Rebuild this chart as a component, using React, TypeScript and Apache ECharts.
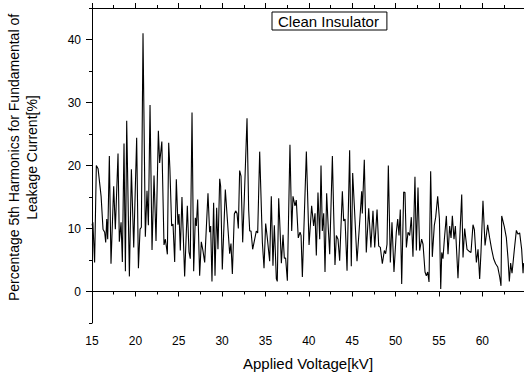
import React, { useEffect, useRef } from "react";
import * as echarts from "echarts";

const seriesName = "Clean Insulator";
const xTitle = "Applied Voltage[kV]";
const yTitle = "Percentage 5th Harmonics for Fundamental of\nLeakage Current[%]";

const xLabelValues = [15, 20, 25, 30, 35, 40, 45, 50, 55, 60];
const xMinorValues = [17.5, 22.5, 27.5, 32.5, 37.5, 42.5, 47.5, 52.5, 57.5, 62.5];
const yLabelValues = [0, 10, 20, 30, 40];
const yMinorValues = [-5, 5, 15, 25, 35, 45];

const voltage = [
  15.0, 15.1, 15.3, 15.5, 15.7, 16.05, 16.27, 16.46, 16.58, 16.7, 16.81, 17.0, 17.19, 17.5, 17.69,
  18.0, 18.15, 18.35, 18.5, 18.69, 18.85, 19.0, 19.31, 19.54, 19.81, 20.15, 20.35, 20.54, 20.69,
  20.88, 21.15, 21.34, 21.5, 21.69, 21.92, 22.15, 22.38, 22.65, 22.8, 23.05, 23.3, 23.46, 23.69,
  23.84, 23.98, 24.18, 24.34, 24.53, 24.72, 24.91, 25.03, 25.18, 25.37, 25.68, 25.99, 26.18, 26.33,
  26.53, 26.72, 26.91, 27.03, 27.18, 27.41, 27.6, 27.79, 27.99, 28.37, 28.56, 28.68, 28.83, 29.02,
  29.18, 29.37, 29.52, 29.72, 29.83, 30.02, 30.37, 30.6, 30.87, 31.02, 31.18, 31.41, 31.56, 31.72,
  31.87, 32.02, 32.18, 32.37, 32.56, 32.87, 33.06, 33.18, 33.33, 33.52, 33.71, 33.94, 34.1, 34.33,
  34.64, 34.83, 35.02, 35.21, 35.48, 35.67, 35.86, 36.02, 36.25, 36.36, 36.52, 36.63, 36.83, 37.02,
  37.17, 37.32, 37.52, 37.82, 38.02, 38.17, 38.4, 38.55, 38.78, 38.98, 39.1, 39.25, 39.71, 40.02,
  40.32, 40.55, 40.71, 40.86, 41.05, 41.25, 41.4, 41.55, 41.71, 41.86, 42.05, 42.24, 42.4, 42.71,
  42.86, 43.01, 43.17, 43.36, 43.55, 43.86, 44.01, 44.17, 44.4, 44.7, 44.89, 45.05, 45.24, 45.55,
  45.78, 46.09, 46.16, 46.39, 46.62, 46.9, 47.15, 47.39, 47.59, 47.86, 48.05, 48.24, 48.47, 48.7,
  48.85, 49.01, 49.16, 49.39, 49.58, 49.81, 50.08, 50.24, 50.39, 50.54, 50.7, 50.93, 51.08, 51.24,
  51.43, 51.62, 51.81, 52.0, 52.23, 52.39, 52.58, 52.77, 53.0, 53.16, 53.39, 53.54, 53.7, 53.85,
  54.04, 54.23, 54.46, 54.62, 54.85, 55.05, 55.2, 55.32, 55.46, 55.62, 55.85, 56.04, 56.23, 56.39,
  56.54, 56.73, 56.89, 57.19, 57.62, 57.77, 57.96, 58.23, 58.46, 58.69, 58.92, 59.08, 59.31, 59.5,
  59.69, 59.84, 60.07, 60.31, 60.61, 60.84, 61.07, 61.3, 61.53, 61.77, 62.0, 62.15, 62.23, 62.53,
  62.76, 62.96, 63.11, 63.26, 63.42, 63.69, 63.92, 64.11, 64.3, 64.53, 64.69, 64.75
];

const harmonic = [
  10.5, 11.0, 4.6, 20.0, 19.5, 15.1, 9.9, 9.4, 7.8, 11.5, 8.3, 21.5, 4.4, 16.7, 9.9,
  21.9, 7.9, 11.0, 4.7, 23.5, 3.2, 27.1, 2.4, 19.4, 7.0, 24.4, 3.7, 9.9, 10.2,
  41.0, 8.7, 16.0, 10.5, 29.6, 6.6, 18.4, 8.0, 25.5, 20.4, 23.8, 7.4, 8.3, 5.9,
  23.6, 19.5, 10.4, 10.7, 4.7, 17.8, 10.6, 12.3, 6.5, 15.0, 2.4, 13.6, 6.3, 5.2,
  28.4, 3.2, 11.7, 10.4, 14.6, 2.5, 7.9, 6.5, 4.6, 15.6, 9.4, 10.4, 1.6, 14.1,
  2.5, 13.3, 6.7, 17.9, 16.7, 3.5, 16.2, 11.5, 6.0, 7.6, 2.8, 12.3, 12.8, 12.4,
  10.0, 19.2, 18.3, 7.8, 14.9, 27.5, 13.0, 9.6, 9.6, 6.7, 8.0, 9.6, 9.3, 22.2,
  7.8, 3.7, 10.8, 8.5, 4.8, 15.1, 4.1, 10.5, 2.0, 1.6, 14.8, 11.4, 4.5, 9.0,
  5.3, 5.3, 1.7, 23.3, 9.6, 15.1, 13.6, 14.5, 8.5, 9.4, 8.9, 2.3, 22.2, 7.4,
  13.6, 10.4, 12.4, 5.7, 15.7, 8.3, 20.0, 9.6, 12.4, 3.1, 15.6, 10.0, 5.9, 21.5,
  12.4, 4.2, 8.9, 8.3, 4.9, 15.9, 11.2, 11.5, 3.3, 22.4, 4.0, 18.8, 13.6, 4.8,
  9.4, 15.9, 12.4, 20.9, 6.2, 13.2, 7.0, 12.8, 7.0, 13.0, 7.2, 7.0, 4.4, 6.5,
  6.0, 7.5, 20.0, 4.6, 11.0, 3.1, 9.4, 11.5, 8.9, 13.0, 1.2, 15.8, 15.7, 7.0,
  9.4, 8.9, 11.8, 5.5, 18.2, 6.5, 16.5, 6.5, 8.3, 7.5, 3.1, 2.5, 3.1, 1.5,
  19.1, 5.5, 10.5, 11.8, 15.1, 11.5, 0.4, 6.2, 5.2, 8.3, 12.0, 5.9, 10.4, 8.5,
  12.0, 8.3, 10.4, 2.1, 15.4, 5.4, 10.0, 6.7, 6.4, 6.2, 10.6, 9.8, 4.6, 6.7,
  2.0, 6.2, 14.4, 7.3, 10.6, 8.5, 6.7, 5.2, 4.4, 3.9, 2.3, 0.9, 12.0, 10.3,
  8.6, 5.2, 1.6, 4.5, 2.9, 6.7, 9.7, 9.1, 9.3, 6.7, 2.9, 4.5
];

export default function App() {
  const ref = useRef<HTMLDivElement>(null);
  useEffect(() => {
    if (!ref.current) return;
    const chart = echarts.init(ref.current, null, { renderer: "svg" });
    const font = "'Liberation Sans', Arial, sans-serif";
    const data = voltage.map((v, i) => [v, harmonic[i]]);
    const black = "#000";
    const xBase = { type: "value", min: 15, max: 64.8, splitLine: { show: false } };
    const yBase = { type: "value", min: -5, max: 45, splitLine: { show: false } };
    chart.setOption({
      animation: false,
      backgroundColor: "#fff",
      textStyle: { fontFamily: font, color: black },
      grid: { left: 92, right: 0, top: 8, bottom: 49, containLabel: false, outerBoundsMode: "none" },
      legend: {
        show: true,
        left: 272,
        top: 12,
        data: [{ name: seriesName, icon: "none" }],
        itemWidth: 0,
        itemHeight: 0,
        itemGap: 0,
        borderColor: black,
        borderWidth: 1,
        borderRadius: 0,
        padding: [2, 8, 1, 1],
        selectedMode: false,
        textStyle: { fontSize: 15, color: black, fontFamily: font },
      },
      xAxis: [
        {
          ...xBase,
          position: "bottom",
          axisLine: { show: true, lineStyle: { color: black, width: 1 } },
          axisTick: { show: true, customValues: xLabelValues, length: 5, lineStyle: { color: black } },
          axisLabel: { show: true, customValues: xLabelValues, color: black, fontSize: 12, margin: 12, fontFamily: font },
          name: xTitle,
          nameLocation: "middle",
          nameGap: 33,
          nameTextStyle: { fontSize: 15, color: black, fontFamily: font },
        },
        {
          ...xBase,
          position: "bottom",
          axisLine: { show: false },
          axisTick: { show: true, customValues: xMinorValues, length: 3, lineStyle: { color: black } },
          axisLabel: { show: false },
        },
        {
          ...xBase,
          position: "top",
          axisLine: { show: true, lineStyle: { color: black, width: 1 } },
          axisTick: { show: true, customValues: xLabelValues, length: 5, lineStyle: { color: black } },
          axisLabel: { show: false },
        },
        {
          ...xBase,
          position: "top",
          axisLine: { show: false },
          axisTick: { show: true, customValues: xMinorValues, length: 3, lineStyle: { color: black } },
          axisLabel: { show: false },
        },
      ],
      yAxis: [
        {
          ...yBase,
          position: "left",
          axisLine: { show: true, lineStyle: { color: black, width: 1 } },
          axisTick: { show: true, customValues: yLabelValues, length: 6, lineStyle: { color: black } },
          axisLabel: { show: true, customValues: yLabelValues, color: black, fontSize: 12, margin: 11, fontFamily: font },
          name: yTitle,
          nameLocation: "middle",
          nameRotate: 90,
          nameGap: 51,
          nameTextStyle: {
            fontSize: 14,
            lineHeight: 18,
            color: black,
            fontFamily: font,
            align: "center",
            padding: [0, 0, 0, 16],
          },
        },
        {
          ...yBase,
          position: "left",
          axisLine: { show: false },
          axisTick: { show: true, customValues: yMinorValues, length: 3, lineStyle: { color: black } },
          axisLabel: { show: false },
        },
      ],
      series: [
        {
          name: seriesName,
          type: "line",
          xAxisIndex: 0,
          yAxisIndex: 0,
          data,
          showSymbol: false,
          symbol: "none",
          lineStyle: { color: black, width: 1.1 },
          itemStyle: { color: black },
        },
      ],
    });
    return () => chart.dispose();
  }, []);
  return (
    <div
      ref={ref}
      style={{ position: "absolute", left: 0, top: 0, width: 524, height: 372, background: "#fff" }}
    />
  );
}
